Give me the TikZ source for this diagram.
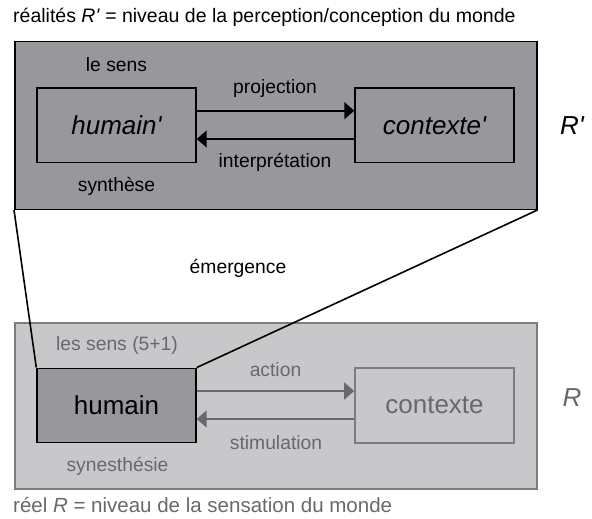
\documentclass[tikz,border=0pt]{standalone}
\usepackage{fontspec}
\setmainfont{Liberation Sans}
% same family without the TeX quote mapping, for a straight prime
\newfontfamily\plainsans{Liberation Sans}
\newcommand\prm{{\plainsans'}}
\usetikzlibrary{arrows.meta}

\definecolor{upperfill}{RGB}{152,152,156}
\definecolor{lowerfill}{RGB}{200,200,202}
\definecolor{lowerline}{RGB}{125,125,128}
\definecolor{lowertext}{RGB}{105,105,108}

\tikzset{
  levelbox/.style={draw, anchor=north west, inner sep=0pt,
    minimum width=522pt},
  agentbox/.style={draw, line width=1.4pt, inner sep=0pt,
    minimum width=159pt, minimum height=74.5pt, font=\fontsize{26}{30}\selectfont},
  label/.style={font=\fontsize{19.3}{22}\selectfont, inner sep=0pt},
  flow/.style={line width=1.6pt, -{Triangle[length=10pt,width=17pt]}},
}

\begin{document}
\begin{tikzpicture}[x=1pt,y=-1pt]
\useasboundingbox (0,0) rectangle (592,519);

% upper level: perception / conception
\node[levelbox, fill=upperfill, line width=1.5pt, minimum height=167.5pt] (Rp) at (14,41) {};
\node[agentbox, fill=upperfill] (hp) at (116.5,125.2) {\itshape humain\prm};
\node[agentbox, fill=upperfill] (cp) at (434.5,125.2) {\itshape contexte\prm};
\draw[flow] ([yshift=14.5pt]hp.east) -- ([yshift=14.5pt]cp.west);
\draw[flow] ([yshift=-13.8pt]cp.west) -- ([yshift=-13.8pt]hp.east);
\node[label] (proj) at (275,88.3) {projection};
\node[label] (interp) at (275,162.7) {interprétation};
\node[label] (sens1) at (116.5,65) {le sens};
\node[label] (synth) at (116.5,186.7) {synthèse};
\node[font=\fontsize{26}{30}\selectfont\itshape, inner sep=0pt] (Rlab1) at (572,126) {R\prm};

% lower level: sensation
\node[levelbox, fill=lowerfill, draw=lowerline, line width=2pt, minimum height=166pt] (R) at (14,322) {};
\node[agentbox, fill=upperfill] (h) at (116.5,405.5) {humain};
\node[agentbox, draw=lowerline, text=lowertext, line width=1.6pt] (c) at (434.5,405.5) {contexte};
\draw[flow, draw=lowertext, fill=lowertext] ([yshift=14.5pt]h.east) -- ([yshift=14.5pt]c.west);
\draw[flow, draw=lowertext, fill=lowertext] ([yshift=-13.5pt]c.west) -- ([yshift=-13.5pt]h.east);
\node[label, text=lowertext] (act) at (275.5,369.3) {action};
\node[label, text=lowertext] (stim) at (276,443) {stimulation};
\node[label, text=lowertext] (sens2) at (117,345.7) {les sens (5+1)};
\node[label, text=lowertext] (syn) at (117.5,466.7) {synesthésie};
\node[font=\fontsize{26}{30}\selectfont\itshape, text=lowertext, inner sep=0pt] (Rlab2) at (572,398) {R};

% emergence of the upper level from the human
\draw[line width=1.6pt] (Rp.south west) -- (h.north west);
\draw[line width=1.6pt] (Rp.south east) -- (h.north east);
\node[label] (emer) at (238,268) {émergence};

% level captions
\node[font=\fontsize{19.5}{22}\selectfont, inner sep=0pt, anchor=west] (top) at (13,17) {réalités \textit{R\prm} = niveau de la perception/conception du monde};
\node[font=\fontsize{20.5}{23}\selectfont, inner sep=0pt, anchor=west, text=lowertext] (bot) at (13,505) {réel \textit{R} = niveau de la sensation du monde};
\end{tikzpicture}
\end{document}
